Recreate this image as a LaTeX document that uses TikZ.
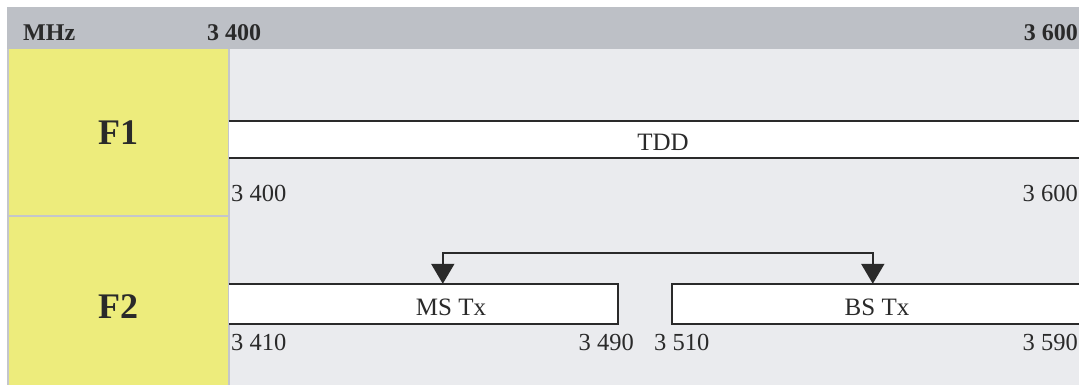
\documentclass[tikz,border=0pt]{standalone}
\usepackage{fontspec}
\setmainfont{Liberation Serif}
\usetikzlibrary{arrows.meta,calc}
\definecolor{hdrgray}{HTML}{BDC0C6}
\definecolor{cellyel}{HTML}{EDEC7C}
\definecolor{bggray}{HTML}{EAEBEE}
\definecolor{sepgray}{HTML}{C4C6CC}
\definecolor{ink}{HTML}{2A2A2A}
\tikzset{
  hdr/.style={font=\fontsize{24}{24}\selectfont\bfseries, text=ink, inner sep=0pt},
  rowlab/.style={font=\fontsize{36}{36}\selectfont\bfseries, text=ink, inner sep=0pt},
  lbl/.style={font=\fontsize{24.5}{24.5}\selectfont, text=ink, inner sep=0pt},
  bartxt/.style={font=\fontsize{25}{25}\selectfont, text=ink, inner sep=0pt, anchor=base},
  bar/.style={fill=white, draw=none, inner sep=0pt},
  barline/.style={draw=ink, line width=2pt},
  conn/.style={draw=ink, line width=2pt, {Triangle[width=23pt,length=20pt]}-{Triangle[width=23pt,length=20pt]}}
}
\begin{document}
\begin{tikzpicture}[x=1pt,y=-1pt]
\useasboundingbox (0,0) rectangle (1079,385);
\fill[white] (0,0) rectangle (1079,385);
% background
\fill[hdrgray] (7,7) rectangle (1079,49);
\fill[bggray] (229,49) rectangle (1079,385);
\fill[cellyel] (8,49) rectangle (228,385);
\draw[sepgray, line width=2pt] (8,49) -- (8,385);
\draw[sepgray, line width=2pt] (228.5,49) -- (228.5,385);
\draw[sepgray, line width=2pt] (8,216) -- (228,216);
% header
\node[hdr, anchor=base west] (mhz) at (23,41) {MHz};
\node[hdr, anchor=base west] (h3400) at (207,41) {3 400};
\node[hdr, anchor=base east] (h3600) at (1078,41) {3 600};
% row labels
\node[rowlab] (f1) at (118,133) {F1};
\node[rowlab] (f2) at (118,307) {F2};
% F1 bar
\node[bar, minimum width=850pt, minimum height=37pt] (tdd) at (654,139.5) {};
\node[bartxt] (tddtxt) at (663,150) {TDD};
\draw[barline] (tdd.north west) -- (tdd.north east);
\draw[barline] (tdd.south west) -- (tdd.south east);
\node[lbl, anchor=base west] (l3400) at (231,201) {3 400};
\node[lbl, anchor=base east] (l3600) at (1078,201) {3 600};
% F2 bars
\node[bar, minimum width=389pt, minimum height=40pt] (ms) at (423.5,304) {};
\node[bartxt] (mstxt) at (451,315) {MS Tx};
\draw[barline] (ms.north west) -- (ms.north east) -- (ms.south east) -- (ms.south west);
\node[bar, minimum width=407pt, minimum height=40pt] (bs) at (875.5,304) {};
\node[bartxt] (bstxt) at (877,315) {BS Tx};
\draw[barline] (bs.north east) -- (bs.north west) -- (bs.south west) -- (bs.south east);
\node[lbl, anchor=base west] (l3410) at (231,350) {3 410};
\node[lbl, anchor=base east] (l3490) at (634,350) {3 490};
\node[lbl, anchor=base west] (l3510) at (654,350) {3 510};
\node[lbl, anchor=base east] (l3590) at (1078,350) {3 590};
% connector
\coordinate (msA) at ($(ms.north west)+(214,0)$);
\coordinate (bsA) at ($(bs.north west)+(201,0)$);
\draw[conn] (msA) -- ($(msA)+(0,-31)$) -| (bsA);
\end{tikzpicture}
\end{document}
